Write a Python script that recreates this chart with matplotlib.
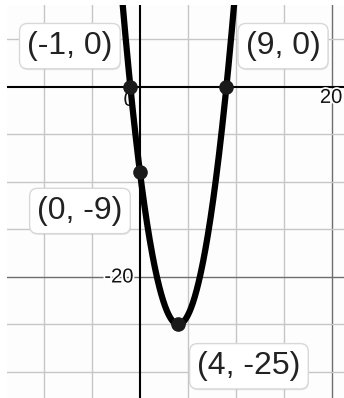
import numpy as np
import matplotlib
matplotlib.use("Agg")
import matplotlib.pyplot as plt
from matplotlib import patheffects as pe

# labelled points on the parabola
pt_x = [-1, 9, 0, 4]
pt_y = [0, 0, -9, -25]
pt_labels = ["(-1, 0)", "(9, 0)", "(0, -9)", "(4, -25)"]
# where each label box sits (data coords)
lab_x = [-7.3, 14.9, -6.25, 11.35]
lab_y = [4.3, 4.3, -13.05, -29.4]

xgrid = [-10, -5, 5, 10, 15, 20]
ygrid = [5, -5, -10, -15, -20, -25, -30]

plt.rcParams['font.family'] = ['Liberation Sans', 'DejaVu Sans']

fig = plt.figure(figsize=(3.44, 3.98), dpi=100)
fig.patch.set_facecolor('white')
ax = fig.add_axes([7/344, 0, 337/344, 393/398])
ax.set_facecolor('#fdfdfd')
ax.set_xlim(-13.85, 21.25)
ax.set_ylim(-32.74, 8.63)
for s in ax.spines.values():
    s.set_visible(False)
ax.set_xticks([])
ax.set_yticks([])

for g in xgrid:
    major = g % 20 == 0
    ax.axvline(g, color='#6e6e6e' if major else '#c6c6c6', lw=1.0, zorder=1)
for g in ygrid:
    major = g % 20 == 0
    ax.axhline(g, color='#6e6e6e' if major else '#c6c6c6', lw=1.0, zorder=1)
ax.axhline(0, color='black', lw=1.5, zorder=2)
ax.axvline(0, color='black', lw=1.5, zorder=2)

halo = [pe.withStroke(linewidth=2.5, foreground='white')]
ax.text(-0.55, -1.4, "0", fontsize=14.5, ha='right', va='center', color='#111', zorder=3, path_effects=halo)
ax.text(19.9, -1.1, "20", fontsize=14.5, ha='center', va='center', color='#111', zorder=3, path_effects=halo)
ax.text(-0.7, -20, "-20", fontsize=14.5, ha='right', va='center', color='#111', zorder=3, path_effects=halo)

# parabola through the labelled points
coef = np.polyfit(pt_x, pt_y, 2)
xs = np.linspace(-4, 12, 400)
ax.plot(xs, np.polyval(coef, xs), color='black', lw=4.5, zorder=5, solid_capstyle='round')
ax.plot(pt_x, pt_y, 'o', color='#1a1a1a', ms=9.5, zorder=6)

for x, y, t in zip(lab_x, lab_y, pt_labels):
    txt = ax.text(x, y, t, fontsize=23, ha='center', va='center', color='#222222', zorder=8,
                  bbox=dict(boxstyle='round,pad=0.24,rounding_size=0.25', fc='white', ec='#d8d8d8', lw=1.0))
    txt.get_bbox_patch().set_path_effects([pe.SimplePatchShadow(offset=(0.5, -1.0), alpha=0.12), pe.Normal()])

fig.savefig("out.png", dpi=100)
